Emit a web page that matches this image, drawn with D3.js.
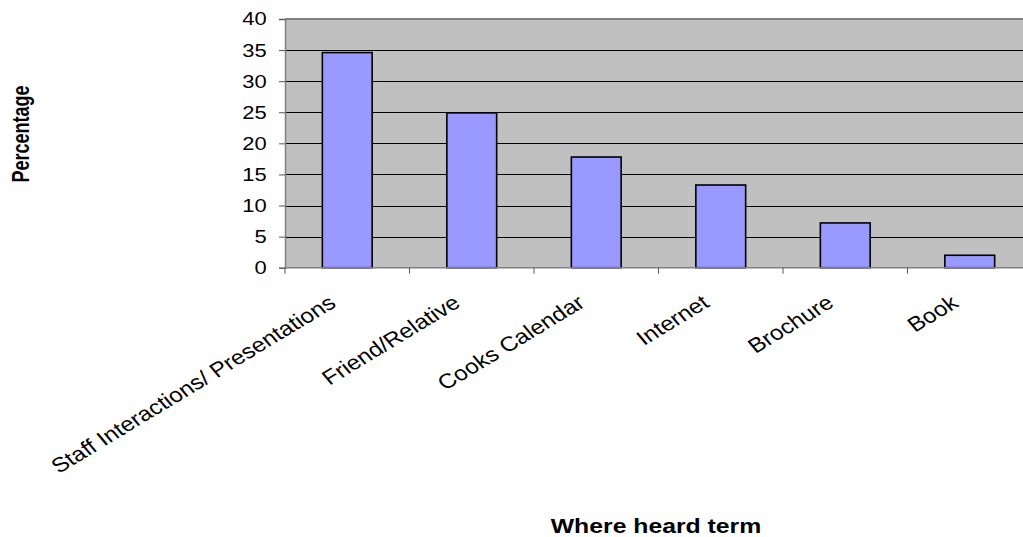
<!DOCTYPE html>
<html>
<head>
<meta charset="utf-8">
<script src="https://cdn.jsdelivr.net/npm/d3@7"></script>
<style>
  body { margin: 0; background: #fff; }
  svg { display: block; }
  text { font-family: "Liberation Sans", Arial, sans-serif; }
</style>
</head>
<body>
<svg id="chart"></svg>
<script>
const width = 1023;
const height = 537;
const svg = d3.select('#chart').attr('width', width).attr('height', height);

// data
const categories = ['Staff Interactions/ Presentations', 'Friend/Relative', 'Cooks Calendar', 'Internet', 'Brochure', 'Book'];
const values = [34.6, 24.9, 17.8, 13.3, 7.2, 2.0];
const yTicks = [0, 5, 10, 15, 20, 25, 30, 35, 40];

// text in the picture looks stretched sideways
const sx = 1.18;

const plot = { left: 285, top: 19, right: 1032, bottom: 267.7 };

const x = d3.scaleBand()
  .domain(categories)
  .range([plot.left, plot.right])
  .paddingInner(0.6)
  .paddingOuter(0.3);

const y = d3.scaleLinear()
  .domain([0, 40])
  .range([plot.bottom, plot.top]);

// background
svg.append('rect')
  .attr('x', plot.left).attr('y', plot.top)
  .attr('width', plot.right - plot.left).attr('height', plot.bottom - plot.top)
  .attr('fill', '#C0C0C0');

// gridlines
svg.append('g')
  .selectAll('line')
  .data(yTicks.filter(d => d > 0 && d < 40))
  .enter()
  .append('line')
  .attr('x1', plot.left).attr('x2', plot.right)
  .attr('y1', d => Math.round(y(d)) + 0.5).attr('y2', d => Math.round(y(d)) + 0.5)
  .attr('stroke', '#000').attr('stroke-width', 1);

// top border
svg.append('line')
  .attr('x1', plot.left).attr('x2', plot.right)
  .attr('y1', plot.top).attr('y2', plot.top)
  .attr('stroke', '#808080').attr('stroke-width', 2);

// bars
svg.append('g')
  .selectAll('rect')
  .data(values)
  .enter()
  .append('rect')
  .attr('x', (d, i) => x(categories[i]))
  .attr('y', d => y(d))
  .attr('width', x.bandwidth())
  .attr('height', d => y(0) - y(d))
  .attr('fill', '#9999FF')
  .attr('stroke', '#000')
  .attr('stroke-width', 1.6);

// y axis
const yAxis = d3.axisLeft(y)
  .tickValues(yTicks)
  .tickSize(6)
  .tickPadding(9.5);

const yG = svg.append('g')
  .attr('transform', `translate(${plot.left},0)`)
  .call(yAxis);
yG.select('.domain').attr('stroke', '#808080').attr('stroke-width', 1.5);
yG.selectAll('.tick line').attr('stroke', '#555');
yG.selectAll('.tick text')
  .attr('font-size', 18.6)
  .attr('font-family', '"Liberation Sans", Arial, sans-serif')
  .attr('fill', '#000')
  .attr('transform', `scale(${sx},1)`);

// x axis: ticks on category boundaries
const step = x.step();
const bounds = d3.range(categories.length + 1).map(i => plot.left + i * step);
svg.append('line')
  .attr('x1', plot.left).attr('x2', plot.right)
  .attr('y1', plot.bottom).attr('y2', plot.bottom)
  .attr('stroke', '#808080').attr('stroke-width', 1.5);
svg.append('g')
  .selectAll('line')
  .data(bounds)
  .enter()
  .append('line')
  .attr('x1', d => d).attr('x2', d => d)
  .attr('y1', plot.bottom).attr('y2', plot.bottom + 6)
  .attr('stroke', '#555').attr('stroke-width', 1);

// rotated category labels
svg.append('g')
  .selectAll('text')
  .data(categories)
  .enter()
  .append('text')
  .attr('text-anchor', 'end')
  .attr('font-size', 20.5)
  .attr('fill', '#000')
  .attr('transform', d => `translate(${x(d) + x.bandwidth() / 2 - 10},${plot.bottom + 38}) scale(${sx},1) rotate(-35.5)`)
  .text(d => d);

// axis titles
svg.append('text')
  .attr('text-anchor', 'middle')
  .attr('font-size', 21)
  .attr('font-weight', 'bold')
  .attr('transform', `translate(656,533) scale(${sx},1)`)
  .text('Where heard term');

svg.append('text')
  .attr('text-anchor', 'middle')
  .attr('font-size', 18)
  .attr('font-weight', 'bold')
  .attr('transform', `translate(29,134) scale(1.3,1) rotate(-90)`)
  .text('Percentage');
</script>
</body>
</html>
